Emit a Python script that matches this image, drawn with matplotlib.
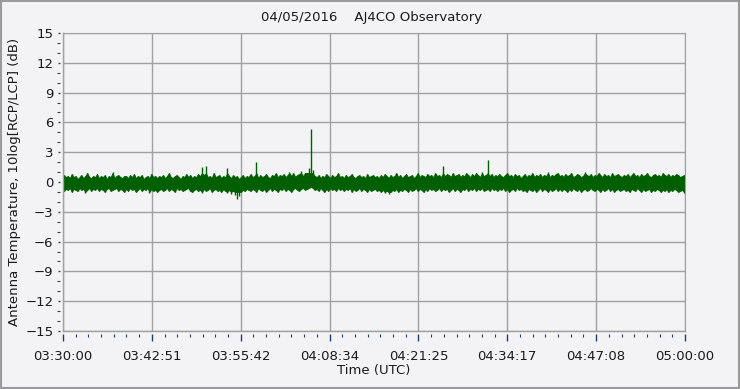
import numpy as np
import matplotlib.pyplot as plt
from matplotlib.ticker import MultipleLocator, FixedLocator
from matplotlib.patches import Rectangle

# per-column max / min of the RCP/LCP ratio in dB, 03:30:00 -> 05:00:00
upper_db = [
    0.7, 0.5, 0.6, 0.4, 0.8, 0.5, 0.6, 0.3, 0.5, 0.7, 0.4, 0.6, 0.9, 0.5, 0.4, 0.6,
    0.5, 0.8, 0.4, 0.6, 0.5, 0.7, 0.3, 0.6, 0.5, 1.0, 0.4, 0.6, 0.7, 0.5, 0.4, 0.6,
    0.6, 0.4, 0.7, 0.5, 0.8, 0.4, 0.6, 0.5, 0.7, 0.3, 0.5, 0.6, 0.4, 0.8, 0.5, 0.6,
    0.4, 0.6, 0.5, 0.7, 0.4, 0.6, 0.9, 0.5, 0.4, 0.6, 0.7, 0.5, 0.3, 0.6, 0.5, 0.8,
    0.5, 0.7, 0.4, 0.6, 0.5, 0.8, 0.6, 1.5, 0.7, 1.6, 0.5, 0.6, 0.4, 0.9, 0.5, 0.6,
    0.7, 0.4, 0.6, 0.5, 1.4, 0.6, 0.4, 0.7, 0.5, 0.6, 0.3, 0.5, 0.7, 0.4, 0.6, 0.5,
    0.8, 0.5, 0.6, 2.0, 0.4, 0.7, 0.5, 0.6, 0.8, 0.5, 0.4, 0.7, 0.6, 0.9, 0.5, 0.7,
    0.6, 0.8, 0.5, 0.7, 1.0, 0.6, 0.9, 0.5, 0.7, 0.8, 1.1, 0.6, 0.9, 0.9, 1.4, 5.3,
    1.2, 0.6, 0.5, 0.7, 0.4, 0.6, 0.5, 0.8, 0.6, 0.4, 0.7, 0.5, 0.6, 0.9, 0.5, 0.6,
    0.4, 0.7, 0.5, 0.6, 0.8, 0.5, 0.4, 0.6, 0.7, 0.5, 0.6, 0.4, 0.8, 0.5, 0.6, 0.7,
    0.5, 0.6, 0.4, 0.7, 0.5, 0.8, 0.6, 0.4, 0.7, 0.5, 0.6, 0.9, 0.5, 0.7, 0.4, 0.6,
    0.8, 0.5, 0.6, 0.7, 0.4, 0.6, 0.9, 0.5, 0.7, 0.6, 0.5, 0.8, 0.6, 0.7, 0.5, 0.9,
    0.6, 0.7, 0.5, 1.6, 0.6, 0.8, 0.7, 0.5, 0.9, 0.6, 0.7, 0.8, 0.5, 0.7, 0.6, 0.9,
    0.7, 0.5, 0.8, 0.6, 0.9, 0.7, 0.5, 1.0, 0.6, 0.7, 2.2, 0.6, 0.8, 0.5, 0.7, 0.6,
    0.8, 0.6, 0.5, 0.7, 0.9, 0.6, 0.7, 0.5, 0.8, 0.6, 0.7, 0.4, 0.6, 0.8, 0.5, 0.7,
    0.6, 0.9, 0.5, 0.7, 0.6, 0.8, 0.5, 0.7, 0.6, 1.0, 0.5, 0.7, 0.6, 0.8, 0.9, 0.6,
    0.7, 0.5, 0.8, 0.6, 0.7, 0.9, 0.5, 0.6, 0.8, 0.7, 0.5, 0.6, 1.0, 0.7, 0.6, 0.8,
    0.5, 0.7, 0.6, 0.9, 0.7, 0.5, 0.8, 0.6, 0.7, 0.5, 0.9, 0.6, 0.7, 0.8, 0.6, 0.5,
    0.7, 0.6, 0.8, 0.5, 0.7, 0.9, 0.6, 0.7, 0.5, 0.8, 0.6, 0.7, 0.9, 0.6, 0.5, 0.7,
    0.8, 0.6, 0.7, 0.5, 0.9, 0.7, 0.6, 0.8, 0.5, 0.7, 0.6, 0.8, 0.7, 0.5, 0.6, 0.7,
]
lower_db = [
    -0.9, -0.7, -0.8, -0.6, -1.0, -0.7, -0.8, -0.9, -0.6, -0.8, -0.7, -1.1, -0.8, -0.6, -0.9, -0.7,
    -0.8, -0.6, -0.9, -0.7, -0.8, -1.0, -0.7, -0.6, -0.9, -0.8, -0.7, -0.6, -0.9, -0.7, -0.8, -1.0,
    -0.7, -0.9, -0.6, -0.8, -0.7, -1.0, -0.8, -0.6, -0.9, -0.7, -0.8, -0.6, -1.1, -0.7, -0.9, -0.8,
    -1.0, -0.8, -0.7, -0.9, -0.8, -0.6, -0.9, -0.7, -0.8, -1.0, -0.6, -0.8, -0.7, -0.9, -0.8, -0.7,
    -0.6, -0.9, -1.0, -0.8, -0.7, -0.9, -0.8, -1.1, -0.7, -0.9, -0.8, -0.6, -1.0, -0.8, -0.7, -0.9,
    -0.8, -1.0, -0.7, -0.9, -1.1, -0.8, -1.2, -0.9, -1.3, -1.7, -1.4, -1.0, -0.8, -0.9, -0.7, -0.8,
    -0.9, -0.7, -0.8, -1.0, -0.6, -0.8, -0.9, -0.7, -1.0, -0.8, -0.6, -0.9, -0.7, -0.8, -1.0, -0.7,
    -0.8, -0.6, -0.9, -0.7, -0.8, -1.0, -0.7, -0.6, -0.8, -0.9, -0.7, -0.6, -0.8, -0.7, -0.6, -0.5,
    -0.6, -0.8, -0.7, -0.9, -0.6, -0.8, -1.0, -0.7, -0.9, -0.6, -0.8, -0.7, -0.9, -0.6, -0.8, -0.7,
    -0.9, -0.7, -0.8, -0.6, -1.0, -0.7, -0.9, -0.8, -0.6, -0.9, -0.7, -0.8, -1.0, -0.7, -0.9, -0.8,
    -0.7, -0.9, -0.8, -1.0, -0.8, -1.1, -0.9, -1.2, -1.0, -0.8, -0.9, -0.7, -1.0, -0.8, -0.9, -0.7,
    -0.8, -1.0, -0.7, -0.9, -0.8, -0.6, -0.9, -0.7, -0.8, -1.0, -0.7, -0.9, -0.6, -0.8, -0.7, -0.9,
    -0.8, -0.6, -0.9, -0.7, -0.8, -0.7, -1.0, -0.8, -0.6, -0.9, -0.7, -0.8, -1.0, -0.7, -0.8, -0.6,
    -0.9, -0.7, -0.8, -0.6, -0.9, -0.7, -0.8, -0.6, -0.9, -0.8, -0.7, -0.9, -0.6, -0.8, -0.7, -0.9,
    -0.7, -0.8, -0.6, -0.9, -0.7, -1.0, -0.8, -0.7, -0.9, -0.6, -0.8, -0.7, -0.9, -0.8, -1.0, -0.7,
    -0.8, -0.9, -0.7, -1.0, -0.8, -0.6, -0.9, -0.7, -0.8, -1.0, -0.7, -0.9, -0.8, -0.6, -0.9, -0.7,
    -0.9, -0.7, -0.8, -1.0, -0.7, -0.9, -0.6, -0.8, -0.9, -0.7, -1.0, -0.8, -0.7, -0.9, -0.8, -0.6,
    -0.8, -0.9, -0.7, -0.8, -1.0, -0.7, -0.9, -0.8, -0.6, -0.9, -0.7, -1.0, -0.8, -0.7, -0.9, -0.8,
    -0.7, -0.9, -0.8, -1.0, -0.7, -0.8, -0.9, -0.6, -0.8, -1.0, -0.7, -0.9, -0.8, -0.7, -1.0, -0.8,
    -0.9, -0.7, -0.8, -1.0, -0.8, -0.9, -0.7, -1.0, -0.8, -0.9, -0.7, -0.8, -1.0, -0.9, -0.8, -1.1,
]
x_ticks_sec = [0, 771.43, 1542.86, 2314.29, 3085.71, 3857.14, 4628.57, 5400]
x_tick_labels = ["03:30:00", "03:42:51", "03:55:42", "04:08:34",
                 "04:21:25", "04:34:17", "04:47:08", "05:00:00"]
y_ticks = list(range(-15, 16, 3))

bg = '#f3f3f5'
frame = '#a0a0a0'
green = '#005f00'
n = len(upper_db)
dt = 5400 / n
t = np.linspace(dt / 2, 5400 - dt / 2, n)
up = np.array(upper_db)
lo = np.array(lower_db)

fig = plt.figure(figsize=(7.4, 3.89), dpi=100, facecolor=bg)
ax = fig.add_axes([63 / 740, 58 / 389, 622 / 740, 298 / 389])
ax.set_facecolor(bg)

# solid noise band (outliers clipped), then each column as a thin stroke so spikes stay narrow
ax.fill_between(t, np.maximum(lo, -1.0), np.minimum(up, 0.9),
                facecolor=green, edgecolor=green, lw=0.6)
ax.vlines(t, lo, up, color=green, lw=1.0)

ax.set_xlim(0, 5400)
ax.set_ylim(-15, 15)
ax.set_xticks(x_ticks_sec)
ax.set_xticklabels(x_tick_labels)
ax.xaxis.set_minor_locator(FixedLocator(np.arange(0, 5401, 5400 / 49)))
ax.set_yticks(y_ticks)
ax.yaxis.set_minor_locator(MultipleLocator(1))

ax.grid(True, which='major', color=frame, lw=1.0)
ax.set_axisbelow(True)
# ticks sit a little away from the frame, like the original software draws them
for side in ['bottom', 'left']:
    ax.spines[side].set_position(('outward', 2.5))
    ax.spines[side].set_visible(False)
for side in ['top', 'right']:
    ax.spines[side].set_color(frame)
ax.axhline(-15, color=frame, lw=1.0, clip_on=False)
ax.axvline(0, color=frame, lw=1.0, clip_on=False)

ax.tick_params(axis='x', which='major', length=5, width=1, color='#1f3f6f',
               labelsize=9.5, pad=6, labelcolor='#1a1a1a')
ax.tick_params(axis='x', which='minor', length=2.5, width=0.8, color='#1f3f6f')
ax.tick_params(axis='y', which='major', length=1.5, width=1, color='#404040',
               labelsize=9.5, pad=3, labelcolor='#1a1a1a')
ax.tick_params(axis='y', which='minor', length=2, width=0.8, color='#404040')

ax.set_xlabel('Time (UTC)', fontsize=9.5, labelpad=1, color='#1a1a1a')
ax.set_ylabel('Antenna Temperature, 10log[RCP/LCP] (dB)', fontsize=9.5,
              labelpad=3, color='#1a1a1a')
fig.text(372 / 740, 1 - 18 / 389, '04/05/2016    AJ4CO Observatory',
         ha='center', va='center', fontsize=9.5, color='#1a1a1a')

fig.patches.append(Rectangle((0.001, 0.002), 0.997, 0.995, transform=fig.transFigure,
                             fill=False, edgecolor='#9a9a9a', lw=1.5))

fig.savefig('out.png', dpi=100, facecolor=bg)
